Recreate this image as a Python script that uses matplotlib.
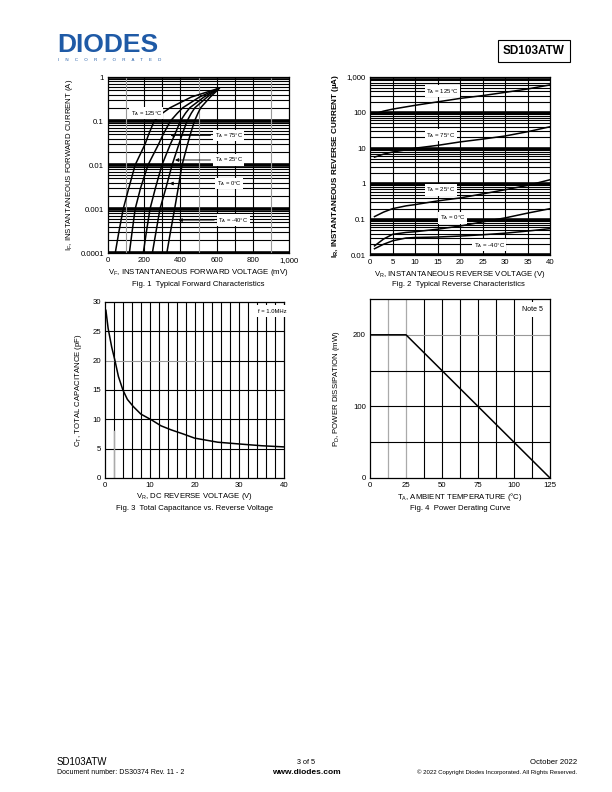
import numpy as np
import matplotlib.pyplot as plt

plt.rcParams['font.family'] = ['Liberation Sans', 'DejaVu Sans']

# Fig. 1 forward characteristics (mV, A)
fwd_i = [0.0001, 0.0003, 0.001, 0.003, 0.01, 0.03, 0.05, 0.1, 0.15, 0.2, 0.35, 0.55]
fwd_v_125 = [40, 60, 84, 115, 150, 205, 225, 255, 300, 343, 460, 610]
fwd_v_75 = [118, 133, 150, 180, 221, 280, 305, 345, 383, 413, 505, 610]
fwd_v_25 = [195, 212, 232, 262, 298, 345, 370, 400, 428, 452, 530, 610]
fwd_v_0 = [245, 265, 287, 320, 354, 392, 410, 437, 460, 480, 548, 612]
fwd_v_m40 = [325, 345, 368, 388, 409, 440, 455, 478, 497, 512, 565, 615]

# Fig. 2 reverse characteristics (V, uA)
rev_v = [1, 3, 5, 8, 10, 15, 20, 25, 30, 35, 40]
rev_i_125 = [92, 110, 125, 145, 160, 200, 250, 300, 370, 460, 600]
rev_i_75 = [5.6, 6.8, 7.8, 9.0, 10, 12, 15, 18, 22, 29, 40]
rev_i_25 = [0.12, 0.16, 0.2, 0.24, 0.26, 0.33, 0.4, 0.52, 0.68, 0.9, 1.3]
rev_i_0 = [0.018, 0.028, 0.038, 0.043, 0.045, 0.053, 0.065, 0.085, 0.11, 0.15, 0.2]
rev_i_m40 = [0.015, 0.02, 0.025, 0.03, 0.031, 0.032, 0.034, 0.037, 0.041, 0.047, 0.055]

# Fig. 3 capacitance (V, pF)
cap_v = [0, 0.2, 0.7, 1.5, 2.2, 3, 4, 5, 6.3, 8, 10.4, 12.5, 14.8, 17.5, 20, 25.2, 30, 35, 40]
cap_c = [28.8, 28.6, 25.5, 22.3, 20.1, 17.3, 15.0, 13.4, 12.2, 10.9, 9.9, 8.9, 8.2, 7.5, 6.8, 6.1, 5.8, 5.5, 5.3]

# Fig. 4 power derating (degC, mW)
der_t = [0, 25, 125]
der_p = [200, 200, 0]

fig = plt.figure(figsize=(6.12, 7.92), dpi=100)
W, H = 612.0, 792.0


def box(l, t, r, b):
    return [l / W, 1 - b / H, (r - l) / W, (b - t) / H]


fs = 5.6
lab = dict(fontsize=fs)

# ---------------- Fig 1
ax1 = fig.add_axes(box(108, 77, 289, 253))
ax1.set_yscale('log')
ax1.set_xlim(0, 1000)
ax1.set_ylim(0.0001, 1)
for dec in [0.0001, 0.001, 0.01, 0.1]:
    for m in range(2, 10):
        ax1.axhline(dec * m, color='black', lw=0.8, zorder=1)
    ax1.axhline(dec, color='black', lw=2.6, zorder=1)
ax1.axhline(1, color='black', lw=2.6, zorder=1)
for x in range(100, 1000, 100):
    ax1.axvline(x, color='#999999' if x in (100, 500, 900) else 'black', lw=0.8, zorder=1)
for v in [fwd_v_125, fwd_v_75, fwd_v_25, fwd_v_0, fwd_v_m40]:
    ax1.plot(v, fwd_i, color='black', lw=1.1, zorder=3)
bb = dict(boxstyle='square,pad=0.25', fc='white', ec='none')
arr = dict(arrowstyle='-|>', lw=0.6, color='black', mutation_scale=5)
ax1.text(125, 0.15, 'T$_\\mathregular{A}$ = 125°C', fontsize=4.2, bbox=bb, va='center', zorder=4)
ax1.annotate('T$_\\mathregular{A}$ = 75°C', xy=(330, 0.047), xytext=(590, 0.047), fontsize=4.2, va='center',
             bbox=bb, zorder=4, arrowprops=arr)
ax1.annotate('T$_\\mathregular{A}$ = 25°C', xy=(355, 0.013), xytext=(590, 0.013), fontsize=4.2, va='center',
             bbox=bb, zorder=4, arrowprops=arr)
ax1.annotate('T$_\\mathregular{A}$ = 0°C', xy=(325, 0.0038), xytext=(600, 0.0038), fontsize=4.2, va='center',
             bbox=bb, zorder=4, arrowprops=arr)
ax1.annotate('T$_\\mathregular{A}$ = -40°C', xy=(375, 0.00056), xytext=(610, 0.00056), fontsize=4.2, va='center',
             bbox=bb, zorder=4, arrowprops=arr)
ax1.set_xticks([0, 200, 400, 600, 800, 1000])
ax1.set_xticklabels(['0', '200', '400', '600', '800', '1,000'])
ax1.set_yticks([0.0001, 0.001, 0.01, 0.1, 1])
ax1.set_yticklabels(['0.0001', '0.001', '0.01', '0.1', '1'])
ax1.minorticks_off()
ax1.set_xlabel('V$_\\mathregular{F}$, INSTANTANEOUS FORWARD VOLTAGE (mV)', labelpad=2, **lab)
ax1.set_ylabel('I$_\\mathregular{F}$, INSTANTANEOUS FORWARD CURRENT (A)', labelpad=4, **lab)
fig.text(198 / W, 1 - 284 / H, 'Fig. 1  Typical Forward Characteristics', ha='center', va='center', fontsize=fs)

# ---------------- Fig 2
ax2 = fig.add_axes(box(370, 77, 550, 255))
ax2.set_yscale('log')
ax2.set_xlim(0, 40)
ax2.set_ylim(0.01, 1000)
for dec in [0.01, 0.1, 1, 10, 100]:
    for m in range(2, 10):
        ax2.axhline(dec * m, color='black', lw=0.8, zorder=1)
    ax2.axhline(dec * 0.97 if dec > 0.01 else dec, color='black', lw=2.6, zorder=1)
ax2.axhline(1000, color='black', lw=2.6, zorder=1)
for x in range(5, 40, 5):
    ax2.axvline(x, color='black', lw=0.8, zorder=1)
for i in [rev_i_125, rev_i_75, rev_i_25, rev_i_0, rev_i_m40]:
    ax2.plot(rev_v, i, color='black', lw=1.1, zorder=3)
ax2.text(12.5, 400, 'T$_\\mathregular{A}$ = 125°C', fontsize=4.4, bbox=bb, va='center', zorder=4)
ax2.text(12.5, 23, 'T$_\\mathregular{A}$ = 75°C', fontsize=4.4, bbox=bb, va='center', zorder=4)
ax2.text(12.5, 0.68, 'T$_\\mathregular{A}$ = 25°C', fontsize=4.4, bbox=bb, va='center', zorder=4)
ax2.text(15.5, 0.11, 'T$_\\mathregular{A}$ = 0°C', fontsize=4.4, bbox=bb, va='center', zorder=4)
ax2.text(23, 0.019, 'T$_\\mathregular{A}$ = -40°C', fontsize=4.4, bbox=bb, va='center', zorder=4)
ax2.set_xticks(range(0, 45, 5))
ax2.set_yticks([0.01, 0.1, 1, 10, 100, 1000])
ax2.set_yticklabels(['0.01', '0.1', '1', '10', '100', '1,000'])
ax2.minorticks_off()
ax2.set_xlabel('V$_\\mathregular{R}$, INSTANTANEOUS REVERSE VOLTAGE (V)', labelpad=2, **lab)
ax2.set_ylabel('I$_\\mathregular{R}$, INSTANTANEOUS REVERSE CURRENT (µA)', labelpad=4, fontsize=5.9, fontweight='bold')
fig.text(458 / W, 1 - 284 / H, 'Fig. 2  Typical Reverse Characteristics', ha='center', va='center', fontsize=fs)

# ---------------- Fig 3
ax3 = fig.add_axes(box(105, 302, 284, 478))
ax3.set_xlim(0, 40)
ax3.set_ylim(0, 30)
for x in range(2, 40, 2):
    ax3.axvline(x, color='black', lw=0.8, zorder=1)
for y in [5, 10, 15, 25]:
    ax3.axhline(y, color='black', lw=0.8, zorder=1)
ax3.plot([0, 24], [20, 20], color='#999999', lw=0.8, zorder=1)
ax3.plot([24, 40], [20, 20], color='black', lw=0.8, zorder=1)
ax3.plot([2, 2], [0, 8], color='#aaaaaa', lw=1.0, zorder=2)
ax3.plot(cap_v, cap_c, color='black', lw=1.1, zorder=3)
ax3.text(37.5, 28.4, 'f = 1.0MHz', fontsize=4.2, ha='center', va='center', bbox=dict(boxstyle='square,pad=0.6', fc='white', ec='none'), zorder=4)
ax3.set_xticks([0, 10, 20, 30, 40])
ax3.set_yticks(range(0, 35, 5))
ax3.set_xlabel('V$_\\mathregular{R}$, DC REVERSE VOLTAGE (V)', labelpad=1, **lab)
ax3.set_ylabel('C$_\\mathregular{T}$, TOTAL CAPACITANCE (pF)', labelpad=6, **lab)
fig.text(195 / W, 1 - 508 / H, 'Fig. 3  Total Capacitance vs. Reverse Voltage', ha='center', va='center', fontsize=fs)

# ---------------- Fig 4
ax4 = fig.add_axes(box(370, 299, 550, 478))
ax4.set_xlim(0, 125)
ax4.set_ylim(0, 250)
for x in np.arange(12.5, 125, 12.5):
    ax4.axvline(x, color='#aaaaaa' if x in (12.5, 25) else 'black', lw=0.9 if x in (12.5, 25) else 0.8, zorder=1)
for y in [50, 100, 150]:
    ax4.axhline(y, color='black', lw=0.8, zorder=1)
ax4.axhline(200, color='#999999', lw=0.8, zorder=1)
ax4.plot(der_t, der_p, color='black', lw=1.1, zorder=3)
ax4.text(112.5, 235, 'Note 5', fontsize=5, ha='center', va='center', bbox=dict(boxstyle='square,pad=0.6', fc='white', ec='none'), zorder=4)
ax4.set_xticks([0, 25, 50, 75, 100, 125])
ax4.set_yticks([0, 100, 200])
ax4.set_xlabel('T$_\\mathregular{A}$, AMBIENT TEMPERATURE (°C)', labelpad=1, **lab)
ax4.set_ylabel('P$_\\mathregular{D}$, POWER DISSIPATION (mW)', labelpad=8, **lab)
fig.text(460 / W, 1 - 508 / H, 'Fig. 4  Power Derating Curve', ha='center', va='center', fontsize=fs)

for ax in [ax1, ax2, ax3, ax4]:
    ax.tick_params(labelsize=fs, length=0, pad=3)
    for s in ax.spines.values():
        s.set_linewidth(0.9)

# header / footer
fig.text(57 / W, 1 - 45 / H, 'DIODES', fontsize=19, fontweight='bold', color='#1f5aa6', va='center', ha='left')
fig.text(58 / W, 1 - 60 / H, 'I     N     C     O     R     P     O     R     A     T     E     D', fontsize=3.2, color='#1f5aa6', va='center', ha='left')
fig.text(534 / W, 1 - 51 / H, 'SD103ATW', fontsize=8.5, fontweight='bold', ha='center', va='center',
         bbox=dict(boxstyle='square,pad=0.45', fc='white', ec='black', lw=0.8))
fig.text(57 / W, 1 - 762 / H, 'SD103ATW', fontsize=7, va='center')
fig.text(57 / W, 1 - 772 / H, 'Document number: DS30374 Rev. 11 - 2', fontsize=5, va='center')
fig.text(306 / W, 1 - 762 / H, '3 of 5', fontsize=5.2, ha='center', va='center')
fig.text(306 / W, 1 - 772 / H, 'www.diodes.com', fontsize=6, fontweight='bold', ha='center', va='center')
fig.text(577 / W, 1 - 762 / H, 'October 2022', fontsize=5.6, ha='right', va='center')
fig.text(577 / W, 1 - 772 / H, '© 2022 Copyright Diodes Incorporated. All Rights Reserved.', fontsize=4.3, ha='right', va='center')

fig.savefig('out.png', dpi=100)
